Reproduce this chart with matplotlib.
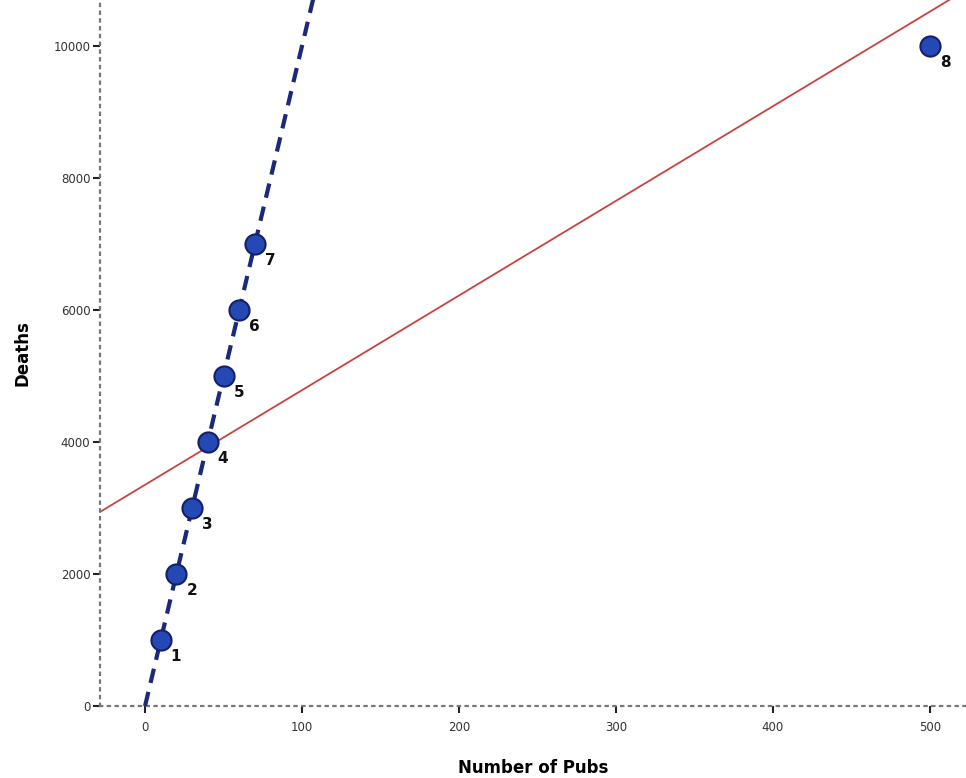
import matplotlib.pyplot as plt
import numpy as np

# data
pubs = [10, 20, 30, 40, 50, 60, 70, 500]
deaths = [1000, 2000, 3000, 4000, 5000, 6000, 7000, 10000]
case_ids = ['1', '2', '3', '4', '5', '6', '7', '8']

x_ticks = [0, 100, 200, 300, 400, 500]
y_ticks = [0, 2000, 4000, 6000, 8000, 10000]

fig = plt.figure(figsize=(9.66, 7.78), dpi=100)
ax = fig.add_axes([0.1035, 0.0925, 0.8965, 0.9075])

x_min, x_max = -28.7, 523
y_min, y_max = 0, 10697

# regression line fitted on all cases (red)
slope, intercept = np.polyfit(pubs, deaths, 1)
xs = np.array([x_min, x_max])
ax.plot(xs, intercept + slope * xs, color='#c8433f', linewidth=1.3, zorder=2)

# line through the first seven cases (blue dashed)
s7, i7 = np.polyfit(pubs[:7], deaths[:7], 1)
xs7 = np.array([0, (y_max - i7) / s7 + 5])
ax.plot(xs7, i7 + s7 * xs7, color='#1b2a78', linewidth=3, linestyle=(0, (3.5, 2.2)), zorder=3)

ax.scatter(pubs, deaths, s=210, color='#2448b4', edgecolor='#16206a', linewidth=1.5, zorder=4)
for x, y, lab in zip(pubs, deaths, case_ids):
    ax.annotate(lab, (x, y), xytext=(11, -12), textcoords='offset points',
                ha='center', va='center', fontsize=11, fontweight='bold', color='#111111')

ax.set_xlim(x_min, x_max)
ax.set_ylim(y_min, y_max)
ax.set_xticks(x_ticks)
ax.set_yticks(y_ticks)
ax.tick_params(axis='both', labelsize=8.5, length=5, width=1.5, color='#222222',
               labelcolor='#333333', pad=2)
ax.tick_params(axis='x', pad=6)

for side in ['top', 'right']:
    ax.spines[side].set_visible(False)
for side in ['left', 'bottom']:
    ax.spines[side].set_linestyle((0, (1, 2.5)))
    ax.spines[side].set_color('#777777')
    ax.spines[side].set_linewidth(1.6)

ax.set_xlabel('Number of Pubs', fontsize=12, fontweight='bold', labelpad=18)
ax.set_ylabel('Deaths', fontsize=12, fontweight='bold', labelpad=16)

fig.savefig('out.png', dpi=100)
